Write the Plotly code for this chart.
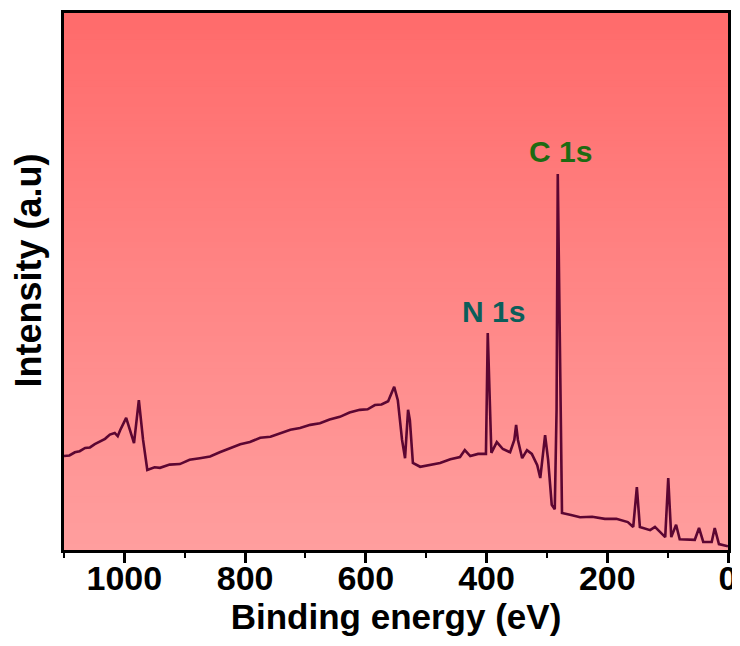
import plotly.graph_objects as go

# Survey XPS spectrum, binding energy in eV, intensity in a.u.
binding_energy = [1100, 1091, 1082, 1074, 1065, 1057, 1049, 1040, 1032, 1024, 1016, 1011, 1007,
                  997, 990, 984, 976, 969, 962,
                  950, 941, 925, 908, 892, 875, 858, 842, 825, 808, 792, 775, 758, 742, 725,
                  709, 692, 676, 660, 643, 627, 610, 597, 585, 574, 563,
                  553, 547, 540, 535, 530, 527, 522, 510, 494, 477, 460, 444, 436, 427, 414, 401,
                  398, 392, 383, 373, 361, 354, 351, 348, 341, 333, 325, 316, 311,
                  303, 298, 292, 287, 284, 282, 278, 275, 260, 245, 225, 204, 185, 166, 157, 151,
                  146, 129, 121, 104, 99, 94, 86, 80, 55, 48, 41, 27, 22, 15, 0]
intensity = [17.5, 17.6, 18.2, 18.4, 19.0, 19.1, 19.7, 20.3, 20.7, 21.5, 21.8, 21.2, 22.3,
             24.6, 22.0, 19.9, 27.9, 20.5, 14.9,
             15.4, 15.3, 15.9, 16.0, 16.8, 17.1, 17.4, 18.2, 18.9, 19.7, 20.1, 20.9, 21.1, 21.8, 22.4,
             22.7, 23.3, 23.6, 24.3, 24.8, 25.6, 26.1, 26.2, 27.0, 27.1, 27.7,
             30.4, 27.9, 20.5, 17.1, 26.1, 24.2, 16.2, 15.5, 15.9, 16.2, 16.9, 17.3, 18.6, 17.5, 17.9, 17.9,
             40.4, 18.1, 20.1, 18.8, 18.2, 20.5, 23.3, 20.5, 17.1, 18.6, 17.9, 15.8, 13.4,
             21.4, 16.8, 8.4, 7.6, 26.1, 70.0, 27.9, 6.9, 6.5, 6.1, 6.2, 5.8, 5.8, 5.2, 4.3, 11.7,
             4.3, 3.7, 4.3, 2.4, 13.4, 2.4, 4.7, 2.0, 1.9, 4.1, 1.5, 1.5, 4.1, 1.1, 0.7]

peak_labels = ["N 1s", "C 1s"]
peak_label_x = [388, 277]
peak_label_y = [44.5, 74.3]
peak_label_colors = ["#0b5e5a", "#1e6b12"]

x_ticks = [1000, 800, 600, 400, 200, 0]

FONT = "Liberation Sans, Arial"

fig = go.Figure()
fig.add_trace(go.Scatter(x=binding_energy, y=intensity, mode="lines",
                         line=dict(color="#5c0632", width=2.6), showlegend=False))

# vertical background gradient (bottom light pink -> top red)
n = 80
top = (255, 107, 107)
bot = (255, 158, 158)
shapes = []
for i in range(n):
    t = i / (n - 1)
    c = tuple(round(bot[k] + (top[k] - bot[k]) * t) for k in range(3))
    shapes.append(dict(type="rect", xref="paper", yref="paper",
                       x0=0, x1=1, y0=i / n, y1=(i + 1) / n + 0.002,
                       fillcolor="rgb(%d,%d,%d)" % c, line=dict(width=0), layer="below"))

for txt, xx, yy, col in zip(peak_labels, peak_label_x, peak_label_y, peak_label_colors):
    fig.add_annotation(x=xx, y=yy, text="<b>%s</b>" % txt, showarrow=False,
                       font=dict(family=FONT, size=30, color=col))

# y-axis title as rotated text
fig.add_annotation(xref="paper", yref="paper", x=-0.053, y=0.52, xanchor="center", yanchor="middle",
                   text="<b>Intensity (a.u)</b>", textangle=-90, showarrow=False,
                   font=dict(family=FONT, size=36, color="black"))

fig.update_layout(
    width=732, height=638,
    margin=dict(l=56, r=12, t=5, b=96),
    paper_bgcolor="white", plot_bgcolor="rgb(255,130,130)",
    shapes=shapes,
    font=dict(family=FONT, color="black"),
    xaxis=dict(range=[1100, 0], tickmode="array", tickvals=x_ticks,
               ticktext=["<b>%d</b>" % v for v in x_ticks],
               ticks="outside", ticklen=10, tickwidth=2.5, tickcolor="black",
               minor=dict(ticks="outside", ticklen=5, tickwidth=2, dtick=100, tickcolor="black"),
               showline=True, linecolor="black", linewidth=3, mirror=True,
               showgrid=False, zeroline=False, automargin=False,
               ticklabelstandoff=-14,
               tickfont=dict(size=34, family=FONT),
               title=dict(text="<b>Binding energy (eV)</b>", font=dict(size=35), standoff=8)),
    yaxis=dict(range=[0, 100], showticklabels=False, ticks="",
               showline=True, linecolor="black", linewidth=3, mirror=True,
               showgrid=False, zeroline=False, automargin=False),
)

fig.write_html("out.html")
